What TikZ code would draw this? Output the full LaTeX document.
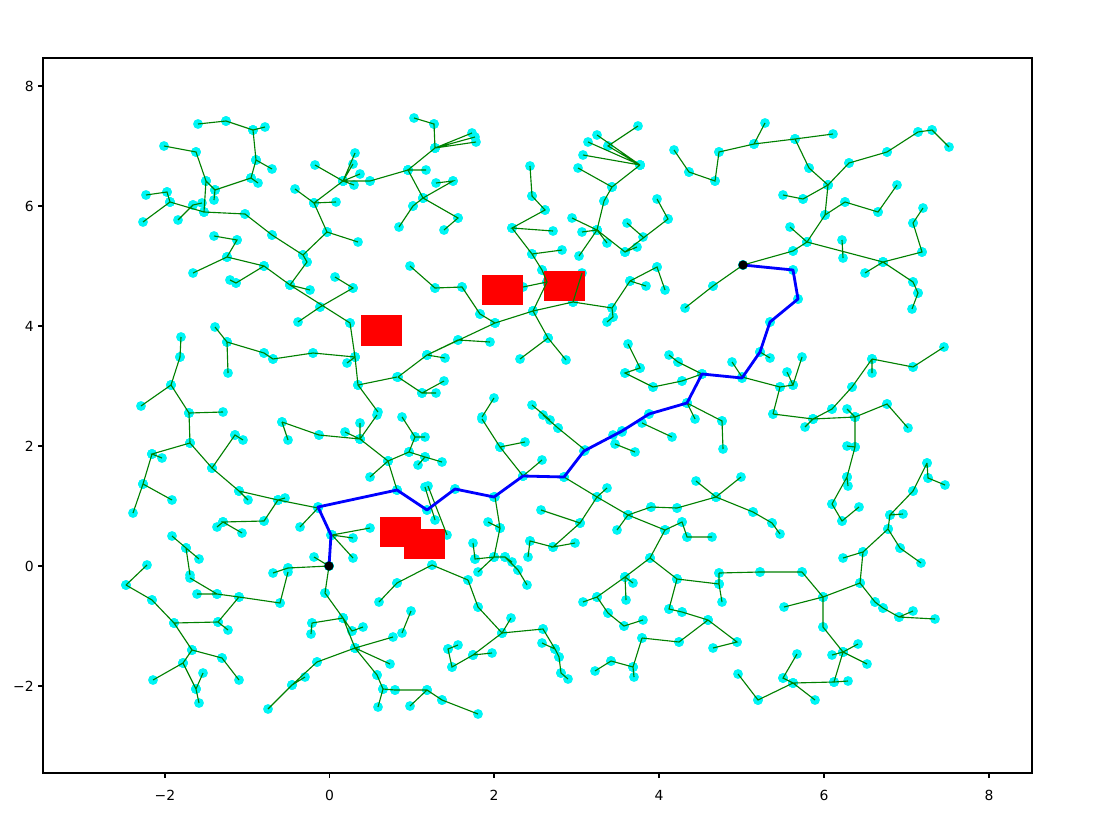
\documentclass[tikz,border=0pt]{standalone}
\usepackage{fontspec}
\setmainfont{DejaVu Sans}
\usetikzlibrary{decorations.pathreplacing}
\definecolor{treegreen}{RGB}{0,128,0}
\definecolor{nodecyan}{RGB}{0,245,245}
\definecolor{obstred}{RGB}{255,0,0}
\definecolor{pathblue}{RGB}{0,0,255}

% tree edges, in pixel coordinates of the plot
\newcommand\rrtA{(198,124)--(226,121)--(253,130)--(265,127)
 (253,130)--(256,160)--(272,169)
 (256,160)--(251,178)--(215,190)--(206,181)
 (215,190)--(214,200) (258,183)--(251,178)
 (164,146)--(196,152)--(206,181)--(204,212)--(245,214)--(272,235)--(303,255)--(327,232)--(358,242)
 (303,255)--(307,262)--(290,285)
 (146,195)--(167,192)--(170,202)--(143,222) (170,202)--(204,212)
 (178,220)--(193,205)--(202,203)
 (315,165)--(343,181)--(355,153) (353,164)--(343,181)--(360,174)
 (343,181)--(370,181)--(408,170)
 (354,185)--(343,181)--(314,203)--(295,189) (314,203)--(336,202) (314,203)--(327,232)
 (214,236)--(237,240)--(227,257)--(264,266) (227,257)--(193,273)
 (230,280)--(236,283)--(264,266)--(290,285)--(310,290)
 (290,285)--(350,323)--(355,357)--(358,385)--(378,412)
 (335,277)--(353,288)--(320,307)--(298,322)
 (355,357)--(347,363) (358,385)--(397,377)}
\newcommand\rrtB{(215,327)--(227,342)--(228,373)
 (227,342)--(264,353)--(273,359)--(313,353)--(355,357)
 (181,337)--(180,357)--(171,385)--(141,406)
 (171,385)--(189,413)--(223,412)
 (189,413)--(190,443)--(152,454)--(162,458)
 (152,454)--(143,484)--(172,500) (143,484)--(133,513)
 (190,443)--(212,468)--(235,435)--(243,440)
 (212,468)--(239,491)--(248,500)
 (239,491)--(278,500)--(318,508)
 (285,498)--(278,500)--(264,521)--(223,522)--(242,533) (223,522)--(217,527)
 (318,508)--(300,527)
 (172,536)--(186,548)--(199,559) (186,548)--(190,575)
 (147,565)--(126,585)
 (282,422)--(288,440)
 (282,422)--(319,435)--(360,439)--(345,432)
 (360,439)--(360,423) (360,439)--(377,415)
 (360,439)--(388,461)--(370,477) (388,461)--(397,490)
 (388,461)--(409,452)--(425,457)--(442,462) (425,457)--(418,465)
 (409,452)--(415,437)--(425,437) (402,417)--(415,437)
 (332,535)--(370,528) (332,535)--(353,538) (332,535)--(353,558)
 (314,557)--(329,566)--(288,568)--(273,573)}
\newcommand\rrtC{(126,585)--(152,600)--(174,623)--(218,622)--(228,630)
 (218,622)--(239,597)--(217,594)--(197,594)
 (239,597)--(280,603)--(288,572) (190,578)--(217,594)
 (174,623)--(192,650)--(222,658)--(239,680)
 (192,650)--(183,663)--(153,680)
 (183,663)--(196,689)--(199,703) (196,689)--(203,673)
 (329,566)--(325,593)--(343,618)--(352,631)--(363,627)
 (312,623)--(343,618) (311,634)--(312,623)
 (343,618)--(355,648)--(393,637) (355,648)--(390,664)
 (355,648)--(377,675)--(383,689)--(378,707)
 (383,689)--(395,690)--(427,690)--(442,700)--(478,714) (427,690)--(410,706)
 (355,648)--(317,662)--(292,685)--(305,677) (292,685)--(268,709)
 (379,602)--(397,583)--(432,565)--(468,580)}
\newcommand\rrtD{(414,118)--(434,124)--(435,148)--(472,133)
 (435,148)--(475,137) (435,148)--(476,142)
 (435,148)--(408,170)--(426,170)
 (408,170)--(423,198)--(453,181)--(436,183)
 (423,198)--(413,206)--(399,227)
 (423,198)--(458,218)--(444,230)
 (530,166)--(532,196)--(545,210)--(512,228)--(553,231)
 (512,228)--(532,254)--(562,250)
 (532,254)--(542,270)--(547,282)--(533,311) (547,282)--(523,287)
 (640,165)--(588,142) (640,165)--(597,135) (640,165)--(583,155)
 (640,165)--(608,146)--(638,126)
 (640,165)--(612,187)--(578,168)
 (612,187)--(604,201)--(597,230)
 (572,218)--(597,230)--(582,232) (597,230)--(579,256) (597,230)--(607,243)
 (597,230)--(625,252)--(668,219)--(657,199)
 (627,223)--(643,237) (625,252)--(637,247)
 (410,266)--(435,288)--(462,287)--(480,314)--(495,323)
 (398,377)--(427,355)--(458,340)--(490,342) (427,355)--(445,358)
 (427,355)--(495,323)--(533,311)--(573,302)--(612,308)
 (573,302)--(582,273)
 (533,311)--(548,338)--(566,360) (548,338)--(520,359)
 (612,308)--(630,281)--(657,267)--(665,290) (630,281)--(646,286)
 (612,308)--(613,317)--(607,322)
 (398,377)--(422,393)--(444,381) (422,393)--(436,393)}
\newcommand\rrtE{(628,344)--(640,368)--(625,373)--(653,387)--(682,381)--(702,374)
 (669,355)--(678,362)--(702,374)
 (494,398)--(482,417) (532,405)--(550,420)
 (482,419)--(500,447)--(525,442)
 (500,447)--(523,476)--(542,460)
 (543,415)--(558,428)--(585,450)
 (615,444)--(635,452) (613,435)--(622,432) (642,423)--(672,437)
 (428,486)--(447,535) (425,487)--(435,520)
 (495,497)--(500,528)--(488,522)
 (500,528)--(494,557)--(475,559)--(473,543)
 (494,557)--(505,557)--(512,562) (494,557)--(478,572)
 (505,557)--(518,570)--(527,585)
 (541,510)--(580,523)--(553,547)--(575,543)
 (553,547)--(530,541)--(528,557)
 (564,477)--(597,497)--(607,488)
 (580,523)--(597,497)--(628,515)--(617,530)
 (628,515)--(651,507)--(677,508)--(716,497)
 (628,515)--(665,530)--(682,522)--(687,537)--(712,537)
 (665,530)--(650,558)--(625,577)
 (650,558)--(677,579)--(719,584)
 (468,580)--(478,607)--(502,633)--(511,618)
 (502,633)--(543,629)--(555,649)--(559,657)--(561,673)--(568,679)
 (542,643)--(555,649)
 (502,633)--(473,655)--(492,653)
 (473,655)--(452,667)--(448,649)--(458,645)
 (411,611)--(402,633)
 (583,602)--(597,597)--(625,577)--(633,583) (625,577)--(626,600)
 (597,597)--(608,613)--(624,626)--(643,620)
 (677,579)--(669,609)--(682,612)--(708,620)
 (642,638)--(679,642)--(708,620)
 (642,638)--(633,667)--(611,661)--(595,671) (633,667)--(634,677)}
\newcommand\rrtF{(674,150)--(689,172)--(715,181)--(719,152)--(754,144)--(765,123)
 (754,144)--(795,139)--(833,134)
 (795,139)--(809,168)--(828,185)--(849,163)--(887,152)--(918,132)--(932,130)--(949,147)
 (828,185)--(803,199)--(783,195)
 (828,185)--(825,215)--(845,202)--(878,212)--(897,185)
 (825,215)--(807,242)--(790,227)
 (807,242)--(793,251)--(743,265)
 (807,242)--(883,262)--(922,252)--(913,223)--(923,208)
 (842,240)--(843,258) (883,262)--(865,273)
 (883,262)--(913,282)--(918,293)--(912,309)
 (743,265)--(713,286)--(685,308)
 (732,362)--(742,377)--(780,387)--(773,414)
 (770,358)--(760,352)
 (802,357)--(793,385)--(787,372) (793,385)--(780,387)
 (872,359)--(872,373)
 (872,359)--(913,367)--(944,347)
 (872,359)--(852,387)--(832,409)--(813,419)
 (773,414)--(813,419)--(855,417) (813,419)--(805,427)
 (847,409)--(855,417)--(887,404)--(908,428)
 (855,417)--(855,447)--(847,477)--(848,486) (847,446)--(855,447)
 (847,477)--(832,504)--(842,521)--(859,507)
 (687,403)--(722,421)--(723,449) (687,403)--(695,419)
 (927,463)--(928,478)--(945,485)
 (927,463)--(913,491)--(890,515)--(903,514)
 (890,515)--(888,529)--(900,548)--(921,563)
 (888,529)--(863,552)--(843,558) (863,552)--(860,583)
 (696,481)--(716,497)--(741,477)
 (716,497)--(753,512)--(772,523)--(780,534)}
\newcommand\rrtG{(719,573)--(760,572)--(802,572)
 (719,573)--(719,584)--(722,602)
 (802,572)--(823,597)--(784,607)
 (823,597)--(860,583)--(875,602)--(883,608)--(899,617)--(913,611)
 (899,617)--(935,619)
 (823,597)--(823,627)--(843,652)--(858,644)
 (843,652)--(832,655) (843,652)--(867,664)
 (843,652)--(834,682)--(848,681)
 (834,682)--(793,683)--(783,678)--(797,654)
 (793,683)--(815,700)
 (793,683)--(758,700)--(738,674)
 (708,620)--(737,642)--(713,648)}
% path found from start to goal
\newcommand\bestroute{(329,566)--(331,535)--(318,507)--(397,490)--(427,510)--(455,489)--(494,497)--(523,476)--(564,477)--(584,451)--(622,431)--(649,414)--(687,403)--(702,374)--(742,378)--(760,352)--(770,322)--(798,299)--(793,270)--(743,265)}

\begin{document}
\begin{tikzpicture}[
    x=0.025cm, y=-0.025cm,
    edge/.style={draw=treegreen, line width=0.8pt},
    treenodes/.style={decorate, decoration={show path construction,
        moveto code={},
        lineto code={\fill[nodecyan] (\tikzinputsegmentfirst) circle (3.5pt);
                     \fill[nodecyan] (\tikzinputsegmentlast) circle (3.5pt);}}},
    obstacle/.style={fill=obstred},
    route/.style={draw=pathblue, line width=2pt, line join=round},
    endpoint/.style={fill=black},
    tick/.style={line width=0.8pt},
    ticklabel/.style={font=\fontsize{9.9}{12}\selectfont, inner sep=0pt}
]
    \useasboundingbox (0,0) rectangle (1102,834);

    % Tree vertices
    \foreach \chunk in {\rrtA,\rrtB,\rrtC,\rrtD,\rrtE,\rrtF,\rrtG,\bestroute}
        {\path[treenodes] \chunk;}

    % Obstacles
    \fill[obstacle] (361,315) rectangle (402,346);
    \fill[obstacle] (482,275) rectangle (523,305);
    \fill[obstacle] (544,271) rectangle (585,301);
    \fill[obstacle] (380,517) rectangle (421,547);
    \fill[obstacle] (404,529) rectangle (445,559);

    % Tree edges
    \foreach \chunk in {\rrtA,\rrtB,\rrtC,\rrtD,\rrtE,\rrtF,\rrtG,\bestroute}
        {\draw[edge] \chunk;}

    % Path
    \draw[route] \bestroute;
    \fill[endpoint] (329,566) circle (3.3pt);
    \fill[endpoint] (743,265) circle (3.3pt);

    % Axes
    \draw[tick] (43,58) rectangle (1032,773);
    \foreach \px/\lab in {165/−2, 329.5/0, 494/2, 659/4, 824/6, 989/8}
    {
        \draw[tick] (\px,773) -- (\px,778);
        \node[ticklabel, anchor=north] at (\px,790) {\lab};
    }
    \foreach \py/\lab in {86/8, 206/6, 326/4, 446/2, 566/0, 686/−2}
    {
        \draw[tick] (43,\py) -- (38,\py);
        \node[ticklabel, anchor=east] at (34,\py) {\lab};
    }
\end{tikzpicture}
\end{document}
